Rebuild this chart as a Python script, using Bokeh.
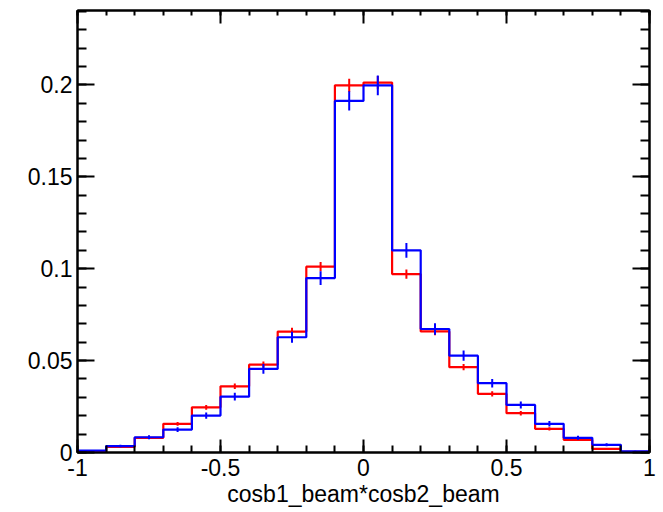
import numpy as np
from bokeh.plotting import figure
from bokeh.models import LinearAxis, FixedTicker
from bokeh.embed import file_html
from bokeh.resources import INLINE

# ---- data ----
bin_edges = [-1.0, -0.9, -0.8, -0.7, -0.6, -0.5, -0.4, -0.3, -0.2, -0.1, 0.0,
             0.1, 0.2, 0.3, 0.4, 0.5, 0.6, 0.7, 0.8, 0.9, 1.0]
red_vals = [0.0007, 0.0030, 0.0080, 0.0156, 0.0246, 0.0360, 0.0478, 0.0658, 0.1011, 0.1998,
            0.2013, 0.0971, 0.0659, 0.0464, 0.0319, 0.0214, 0.0129, 0.0069, 0.0020, 0.0004]
red_errs = [0.0002, 0.0004, 0.0007, 0.0010, 0.0013, 0.0015, 0.0017, 0.0021, 0.0025, 0.0036,
            0.0036, 0.0025, 0.0021, 0.0017, 0.0014, 0.0012, 0.0009, 0.0007, 0.0004, 0.0002]
blue_vals = [0.0010, 0.0035, 0.0083, 0.0125, 0.0201, 0.0304, 0.0455, 0.0627, 0.0949, 0.1913,
             0.1998, 0.1100, 0.0672, 0.0527, 0.0377, 0.0259, 0.0156, 0.0080, 0.0042, 0.0006]
blue_errs = [0.0004, 0.0007, 0.0011, 0.0013, 0.0017, 0.0021, 0.0026, 0.0030, 0.0037, 0.0052,
             0.0054, 0.0040, 0.0031, 0.0028, 0.0023, 0.0019, 0.0015, 0.0011, 0.0008, 0.0003]
x_ticks = [-1, -0.5, 0, 0.5, 1]
x_tick_labels = ["-1", "-0.5", "0", "0.5", "1"]
y_ticks = [0, 0.05, 0.1, 0.15, 0.2]
y_tick_labels = ["0", "0.05", "0.1", "0.15", "0.2"]
x_title = "cosb1_beam*cosb2_beam"

FONT = "Liberation Sans"
FS = "23px"

p = figure(frame_width=572, frame_height=442, x_range=(-1, 1), y_range=(0, 0.2405),
           output_backend="svg", toolbar_location=None,
           min_border_left=77, min_border_top=10, min_border_right=10, min_border_bottom=54)
p.xgrid.visible = False
p.ygrid.visible = False
p.outline_line_color = "black"
p.outline_line_width = 2
p.background_fill_color = "white"
p.border_fill_color = "white"

x_minor = list(np.round(np.arange(-1.0, 1.0001, 0.1), 3))
y_minor = list(np.round(np.arange(0.0, 0.2401, 0.01), 3))
xt = FixedTicker(ticks=x_ticks, minor_ticks=x_minor)
yt = FixedTicker(ticks=y_ticks, minor_ticks=y_minor)


def style_axis(ax, major_in, minor_in):
    ax.major_tick_in = major_in
    ax.major_tick_out = 0
    ax.minor_tick_in = minor_in
    ax.minor_tick_out = 0
    ax.axis_line_width = 2
    ax.major_tick_line_width = 2
    ax.minor_tick_line_width = 2
    ax.axis_line_color = "black"
    ax.major_tick_line_color = "black"
    ax.minor_tick_line_color = "black"
    ax.major_label_text_font = FONT
    ax.major_label_text_font_size = FS
    ax.major_label_text_color = "black"


xa = p.xaxis[0]
xa.ticker = xt
style_axis(xa, 13, 7)
xa.major_label_overrides = {float(t): s for t, s in zip(x_ticks, x_tick_labels)}
xa.major_label_standoff = 6
xa.axis_label = x_title
xa.axis_label_text_font = FONT
xa.axis_label_text_font_size = FS
xa.axis_label_text_font_style = "normal"
xa.axis_label_text_color = "black"
xa.axis_label_standoff = 2

ya = p.yaxis[0]
ya.ticker = yt
style_axis(ya, 17, 9)
ya.major_label_overrides = {float(t): s for t, s in zip(y_ticks, y_tick_labels)}
ya.major_label_standoff = 5

top = LinearAxis(ticker=FixedTicker(ticks=x_ticks, minor_ticks=x_minor))
style_axis(top, 13, 5)
top.major_label_overrides = {float(t): "" for t in x_ticks}
top.major_label_standoff = 0
p.add_layout(top, "above")

right = LinearAxis(ticker=FixedTicker(ticks=y_ticks, minor_ticks=y_minor))
style_axis(right, 17, 9)
right.major_label_overrides = {float(t): "" for t in y_ticks}
right.major_label_standoff = 0
p.add_layout(right, "right")


def hist_path(edges, vals):
    xs, ys = [edges[0]], [0.0]
    for i, v in enumerate(vals):
        xs += [edges[i], edges[i + 1]]
        ys += [v, v]
    xs.append(edges[-1])
    ys.append(0.0)
    return xs, ys


centers = [(bin_edges[i] + bin_edges[i + 1]) / 2 for i in range(len(bin_edges) - 1)]

for vals, errs, col in [(red_vals, red_errs, "#ff0000"), (blue_vals, blue_errs, "#0000ff")]:
    xs, ys = hist_path(bin_edges, vals)
    p.line(xs, ys, line_color=col, line_width=2.2)
    lo = [v - e for v, e in zip(vals, errs)]
    hi = [v + e for v, e in zip(vals, errs)]
    p.segment(x0=centers, y0=lo, x1=centers, y1=hi, line_color=col, line_width=2)

open("out.html", "w").write(file_html(p, INLINE))
